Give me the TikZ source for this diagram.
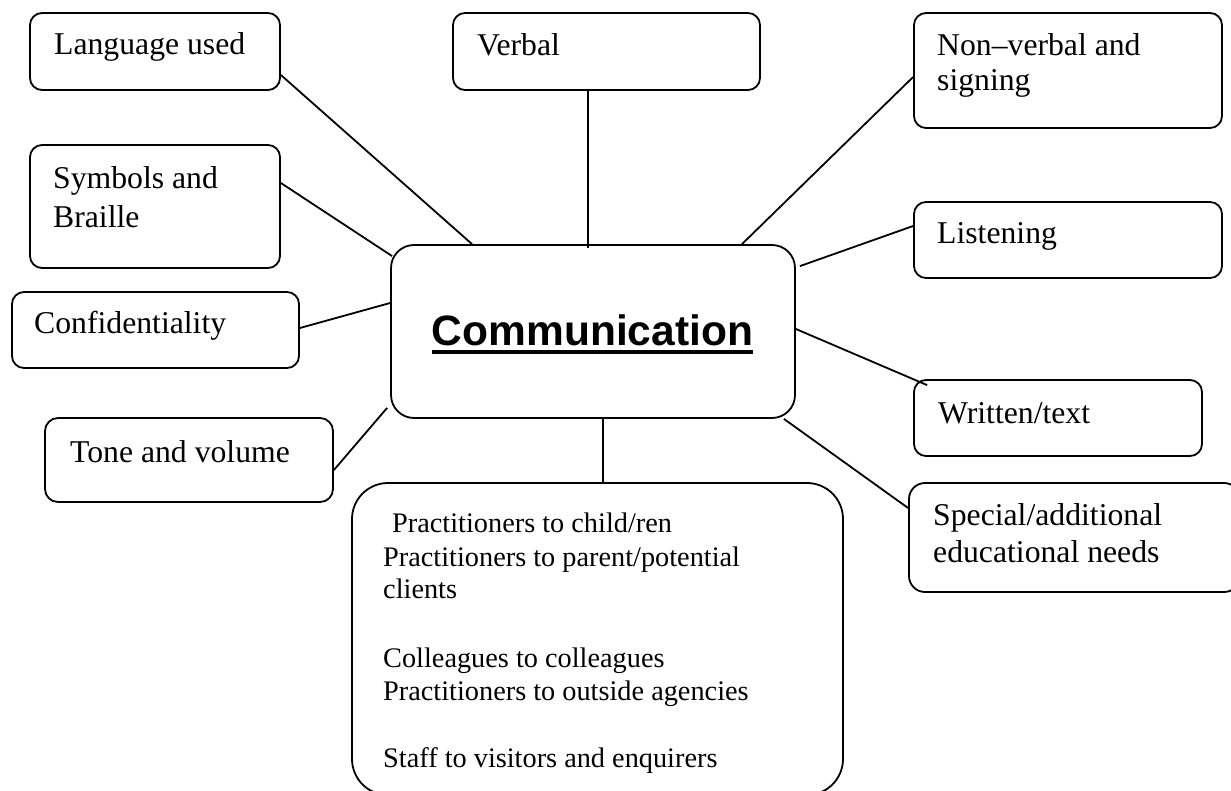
\documentclass[tikz,border=0pt]{standalone}
\usepackage{fontspec}
\setmainfont{Liberation Serif}
\newfontfamily\arialfont{Liberation Sans}
\usetikzlibrary{calc}
\newcommand\myul[1]{\setbox0\hbox{#1}\rlap{\rule[-9pt]{\wd0}{4pt}}\box0}
\tikzset{
  box/.style={draw, line width=1.8pt, rounded corners=12pt, inner sep=0pt},
  conn/.style={line width=1.8pt},
  txt/.style={anchor=base west, inner sep=0pt, font=\fontsize{31.7}{36}\selectfont},
  btxt/.style={anchor=base west, inner sep=0pt, font=\fontsize{28.3}{33}\selectfont},
}
\begin{document}
\begin{tikzpicture}[x=1pt,y=-1pt]
\useasboundingbox (0,0) rectangle (1231,790);
% boxes
\node[box, minimum width=250pt, minimum height=77pt] (lang) at (155,51.5) {};
\node[box, minimum width=307pt, minimum height=77pt] (verbal) at (606.5,51.5) {};
\node[box, minimum width=308pt, minimum height=115pt] (nonverbal) at (1068,70.5) {};
\node[box, minimum width=250pt, minimum height=123pt] (symbols) at (155,206.5) {};
\node[box, minimum width=308pt, minimum height=76pt] (listening) at (1068,240) {};
\node[box, minimum width=287pt, minimum height=76pt] (conf) at (155.5,330) {};
\node[box, rounded corners=23pt, minimum width=404pt, minimum height=173pt] (comm) at (593,331.5) {};
\node[box, minimum width=288pt, minimum height=76pt] (written) at (1058,418) {};
\node[box, rounded corners=13pt, minimum width=288pt, minimum height=84pt] (tone) at (189,460) {};
\node[box, rounded corners=16pt, minimum width=331pt, minimum height=109pt] (special) at (1074.5,537.5) {};
\node[box, rounded corners=36pt, minimum width=491pt, minimum height=312pt] (bottom) at (597.5,639) {};
% texts
\node[txt] (tlang) at (54,54) {Language used};
\node[txt] (tverbal) at (477,55) {Verbal};
\node[txt] (tnon1) at (937,55) {Non–verbal and};
\node[txt] (tnon2) at (937,90) {signing};
\node[txt] (tsym1) at (53,188) {Symbols and};
\node[txt] (tsym2) at (53,227) {Braille};
\node[txt] (tlist) at (937,243) {Listening};
\node[txt] (tconf) at (34,333) {Confidentiality};
\node[txt] (twrit) at (938,423) {Written/text};
\node[txt] (ttone) at (70,462) {Tone and volume};
\node[txt] (tspec1) at (933,525) {Special/additional};
\node[txt] (tspec2) at (933,562) {educational needs};
\node[btxt] (tb1) at (392,532) {Practitioners to child/ren};
\node[btxt] (tb2) at (383,566) {Practitioners to parent/potential};
\node[btxt] (tb3) at (383,598) {clients};
\node[btxt] (tb4) at (383,667) {Colleagues to colleagues};
\node[btxt] (tb5) at (383,700) {Practitioners to outside agencies};
\node[btxt] (tb6) at (383,767) {Staff to visitors and enquirers};
\node[anchor=base, inner sep=0pt, font=\arialfont\bfseries\fontsize{42.5}{50}\selectfont] (ctext) at (592.5,345) {\myul{Communication}};
% connectors
\draw[conn] ([yshift=-23.5pt]lang.east) -- ([xshift=-121pt]comm.north);
\draw[conn] ([xshift=-18.5pt]verbal.south) -- ([xshift=-5pt,yshift=-4pt]comm.north);
\draw[conn] ([yshift=-6.5pt]nonverbal.west) -- ([xshift=149pt]comm.north);
\draw[conn] ([yshift=23.5pt]symbols.east) -- ([xshift=2pt,yshift=-12pt]comm.north west);
\draw[conn] ([yshift=14pt]listening.west) -- ([xshift=4pt,yshift=-22pt]comm.north east);
\draw[conn] ([yshift=2pt]conf.east) -- ([yshift=28.5pt]comm.west);
\draw[conn] ([yshift=2.5pt]comm.east) -- ([xshift=14pt,yshift=-6pt]written.north west);
\draw[conn] ([yshift=-10pt]tone.east) -- ([xshift=-3pt,yshift=11pt]comm.south west);
\draw[conn] ([xshift=-12pt]comm.south east) -- ([yshift=29.5pt]special.west);
\draw[conn] ([xshift=10pt]comm.south) -- ([xshift=5.5pt]bottom.north);
\end{tikzpicture}
\end{document}
